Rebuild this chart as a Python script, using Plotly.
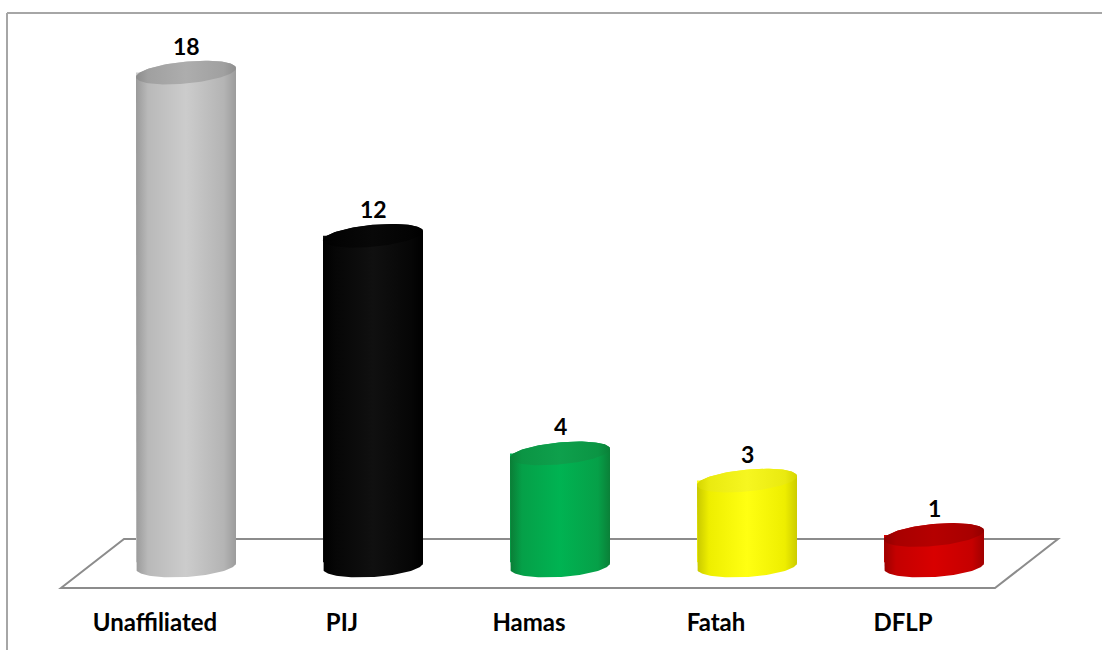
import numpy as np
import plotly.graph_objects as go

categories = ["Unaffiliated", "PIJ", "Hamas", "Fatah", "DFLP"]
values = [18, 12, 4, 3, 1]
# side gradient: left edge, left shoulder, highlight, right shoulder, right edge
side_colors = [
    ("#9a9a9a", "#b9b9b9", "#cccccc", "#b4b4b4", "#9c9c9c"),
    ("#000000", "#060606", "#101010", "#060606", "#000000"),
    ("#0b7d36", "#05a048", "#00b352", "#06a048", "#0a8038"),
    ("#c8c800", "#eeee00", "#ffff12", "#eeee00", "#cccc00"),
    ("#9c0000", "#c40000", "#d80000", "#c60000", "#a00000"),
]
top_colors = [
    ("#8c8c8c", "#a0a0a0", "#adadad", "#a0a0a0", "#8e8e8e"),
    ("#000000", "#030303", "#080808", "#030303", "#000000"),
    ("#0a8238", "#0b9544", "#0ea04c", "#0b9544", "#0a8038"),
    ("#d4d400", "#eaea10", "#f6f620", "#eaea10", "#d6d600"),
    ("#900000", "#a80000", "#b50000", "#a80000", "#920000"),
]
mid_colors = [c[2] for c in side_colors]
stops = [0, 0.12, 0.5, 0.88, 1]

W, H = 1102, 650
MB = 44
PLOT_H = H - MB
X0_PX, STEP_PX = 186, 187
BASE_PX, UNIT_PX = 562.2, 27.2


def px_x(px):
    return (px - X0_PX) / STEP_PX


def px_y(py):
    return (BASE_PX - py) / UNIT_PX


half_w = 50 / STEP_PX
ell_h = 11 / UNIT_PX
tilt_top = 4.5 / UNIT_PX
tilt_bot = 3 / UNIT_PX
bottom_c = px_y(566)
xs = np.arange(len(categories))

fig = go.Figure()

# base bars (library bars)
fig.add_trace(go.Bar(
    x=xs, y=values, base=0, width=2 * half_w,
    marker=dict(color=mid_colors, line=dict(width=0)),
    hoverinfo="skip", showlegend=False,
))


def ell(xc, yc, t, k):
    return xc + half_w * np.cos(t), yc + ell_h * np.sin(t) + k * np.cos(t)


for i, v in enumerate(values):
    xc = xs[i]
    tb = np.linspace(np.pi, 2 * np.pi, 60)
    bx, by = ell(xc, bottom_c, tb, tilt_bot)
    tt = np.linspace(0, np.pi, 60)
    tx, ty = ell(xc, v, tt, tilt_top)
    px = np.concatenate([[xc - half_w], bx, tx])
    py = np.concatenate([[v - tilt_top], by, ty])
    fig.add_trace(go.Scatter(
        x=px, y=py, mode="lines", fill="toself", line=dict(width=0),
        fillgradient=dict(type="horizontal", start=xc - half_w, stop=xc + half_w,
                          colorscale=[[s, c] for s, c in zip(stops, side_colors[i])]),
        hoverinfo="skip", showlegend=False,
    ))
    ta = np.linspace(0, 2 * np.pi, 120)
    ex, ey = ell(xc, v, ta, tilt_top)
    fig.add_trace(go.Scatter(
        x=ex, y=ey, mode="lines", fill="toself", line=dict(width=0),
        fillgradient=dict(type="horizontal", start=xc - half_w, stop=xc + half_w,
                          colorscale=[[s, c] for s, c in zip(stops, top_colors[i])]),
        hoverinfo="skip", showlegend=False,
    ))
    fig.add_annotation(
        x=xc, y=v, text=str(v), showarrow=False, yshift=27,
        font=dict(family="Lato", size=23, color="#000000", weight="bold"),
    )

# floor parallelogram
fx = [px_x(61), px_x(124), px_x(1058), px_x(995), px_x(61)]
fy = [px_y(588), px_y(539), px_y(539), px_y(588), px_y(588)]
path = "M " + " L ".join(f"{a},{b}" for a, b in zip(fx, fy)) + " Z"
fig.add_shape(type="path", path=path, xref="x", yref="y", layer="below",
              line=dict(color="#8c8c8c", width=2), fillcolor="rgba(0,0,0,0)")

# outer border (top and left)
top_y = 1 - 13 / PLOT_H
bot_y = -(H - PLOT_H) / PLOT_H
fig.add_shape(type="line", xref="paper", yref="paper", x0=7 / W, x1=1.0,
              y0=top_y, y1=top_y, line=dict(color="#a6a6a6", width=2))
fig.add_shape(type="line", xref="paper", yref="paper", x0=7 / W, x1=7 / W,
              y0=top_y, y1=bot_y, line=dict(color="#a6a6a6", width=2))

fig.update_layout(
    width=W, height=H,
    margin=dict(l=0, r=0, t=0, b=MB),
    paper_bgcolor="white", plot_bgcolor="white",
    showlegend=False,
    xaxis=dict(range=[px_x(0), px_x(W)], tickvals=xs, ticktext=categories,
               showgrid=False, zeroline=False, showline=False, ticks="",
               ticklabelshift=-31,
               tickfont=dict(family="Lato", size=24, color="#000000", weight="bold"),
               fixedrange=True),
    yaxis=dict(range=[px_y(PLOT_H), px_y(0)], visible=False, showgrid=False,
               zeroline=False, fixedrange=True),
)

fig.write_html("out.html", config={"displayModeBar": False},
               post_script="document.body.style.margin='0';document.body.style.overflow='hidden';")
